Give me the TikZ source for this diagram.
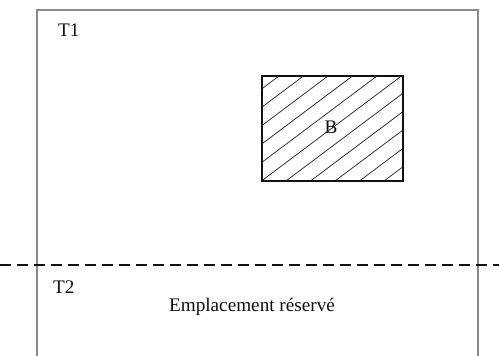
\documentclass[tikz,border=0pt]{standalone}
\usepackage{fontspec}
\setmainfont{Liberation Serif}
\usepackage{tikz}
\usetikzlibrary{positioning}
\definecolor{ink}{HTML}{111111}
\definecolor{wall}{HTML}{8A8A8A}

\begin{document}
\begin{tikzpicture}[x=0.5pt,y=-0.5pt]
  \useasboundingbox (0,0) rectangle (499,356);
  \fill[white] (0,0) rectangle (499,356);
  % lot boundary, open at the bottom
  \draw[wall,line width=0.65pt] (37,356) -- (37,10) -- (478,10) -- (478,356);
  % building B with hatching
  \begin{scope}
    \clip (262,76) rectangle (403,181);
    \foreach \x in {90,114.5,...,420}{
      \draw[ink!85,line width=0.4pt] (\x,181) -- (\x+140,76);
    }
  \end{scope}
  \draw[ink,line width=1pt] (262,76) rectangle (403,181);
  \node[font=\fontsize{9.6}{11}\selectfont,color=ink] (bat) at (331,127) {B};
  % limit between the two zones
  \draw[ink,line width=1pt,dash pattern=on 5.5pt off 3pt] (0,265) -- (499,265);
  \node[font=\fontsize{9.6}{11}\selectfont,color=ink,anchor=west] (tone) at (51,30) {T1};
  \node[font=\fontsize{9.6}{11}\selectfont,color=ink,anchor=west] (ttwo) at (46,287) {T2};
  \node[font=\fontsize{9.6}{11}\selectfont,color=ink] (reserve) at (252,307) {Emplacement réservé};
\end{tikzpicture}
\end{document}
